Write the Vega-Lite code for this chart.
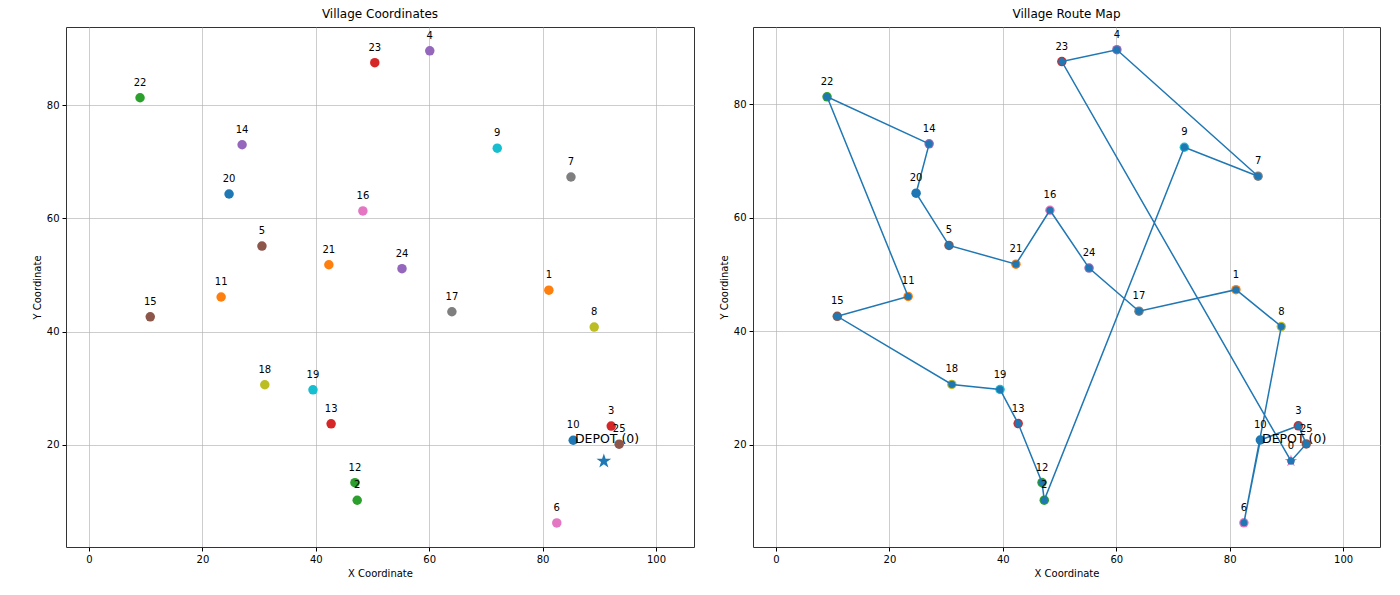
{
  "$schema": "https://vega.github.io/schema/vega-lite/v6.json",
  "background": "white",
  "padding": {"left": 31, "top": 7, "right": 10, "bottom": 5},
  "spacing": 23,
  "config": {
    "font": "DejaVu Sans",
    "view": {"stroke": "#333333", "strokeWidth": 1},
    "title": {"fontSize": 12, "fontWeight": "normal", "color": "#000000", "font": "DejaVu Sans", "offset": 6},
    "axis": {
      "domain": false,
      "grid": true,
      "gridColor": "#b0b0b0",
      "gridOpacity": 0.8,
      "gridWidth": 0.8,
      "tickColor": "#000000",
      "tickSize": 4,
      "labelFontSize": 10,
      "labelColor": "#000000",
      "labelFont": "DejaVu Sans",
      "titleFontSize": 10,
      "titleFontWeight": "normal",
      "titleColor": "#000000",
      "titleFont": "DejaVu Sans",
      "labelPadding": 3
    }
  },
  "datasets": {
    "villages": [
      {"id": 0, "x": 90.8, "y": 17.1},
      {"id": 1, "x": 81.1, "y": 47.3},
      {"id": 2, "x": 47.3, "y": 10.2},
      {"id": 3, "x": 92.1, "y": 23.3},
      {"id": 4, "x": 60.1, "y": 89.6},
      {"id": 5, "x": 30.5, "y": 55.1},
      {"id": 6, "x": 82.5, "y": 6.2},
      {"id": 7, "x": 85.0, "y": 67.3},
      {"id": 8, "x": 89.1, "y": 40.8},
      {"id": 9, "x": 72.0, "y": 72.4},
      {"id": 10, "x": 85.4, "y": 20.8},
      {"id": 11, "x": 23.3, "y": 46.1},
      {"id": 12, "x": 46.9, "y": 13.3},
      {"id": 13, "x": 42.7, "y": 23.7},
      {"id": 14, "x": 27.0, "y": 73.0},
      {"id": 15, "x": 10.8, "y": 42.6},
      {"id": 16, "x": 48.3, "y": 61.3},
      {"id": 17, "x": 64.0, "y": 43.5},
      {"id": 18, "x": 31.0, "y": 30.6},
      {"id": 19, "x": 39.5, "y": 29.7},
      {"id": 20, "x": 24.7, "y": 64.3},
      {"id": 21, "x": 42.3, "y": 51.8},
      {"id": 22, "x": 9.0, "y": 81.3},
      {"id": 23, "x": 50.4, "y": 87.5},
      {"id": 24, "x": 55.2, "y": 51.1},
      {"id": 25, "x": 93.5, "y": 20.1}
    ],
    "route": [
      {"step": 0, "id": 0}, {"step": 1, "id": 25}, {"step": 2, "id": 3}, {"step": 3, "id": 10},
      {"step": 4, "id": 6}, {"step": 5, "id": 8}, {"step": 6, "id": 1}, {"step": 7, "id": 17},
      {"step": 8, "id": 24}, {"step": 9, "id": 16}, {"step": 10, "id": 21}, {"step": 11, "id": 5},
      {"step": 12, "id": 20}, {"step": 13, "id": 14}, {"step": 14, "id": 22}, {"step": 15, "id": 11},
      {"step": 16, "id": 15}, {"step": 17, "id": 18}, {"step": 18, "id": 19}, {"step": 19, "id": 13},
      {"step": 20, "id": 12}, {"step": 21, "id": 2}, {"step": 22, "id": 9}, {"step": 23, "id": 7},
      {"step": 24, "id": 4}, {"step": 25, "id": 23}, {"step": 26, "id": 0}
    ],
    "depotLabel": [{"label": "DEPOT (0)", "x": 85.7, "y": 20.3}]
  },
  "hconcat": [
    {
      "title": "Village Coordinates",
      "width": 628,
      "height": 520,
      "encoding": {
        "x": {"field": "x", "type": "quantitative", "scale": {"domain": [-4.06, 106.7], "nice": false, "zero": false}, "axis": {"title": "X Coordinate", "values": [0, 20, 40, 60, 80, 100]}},
        "y": {"field": "y", "type": "quantitative", "scale": {"domain": [1.94, 93.8], "nice": false, "zero": false}, "axis": {"title": "Y Coordinate", "values": [20, 40, 60, 80]}}
      },
      "layer": [
        {
          "data": {"name": "villages"},
          "transform": [{"filter": "datum.id > 0"}],
          "mark": {"type": "circle", "size": 90, "opacity": 1},
          "encoding": {
            "color": {"field": "id", "type": "nominal", "legend": null,
              "scale": {"domain": [1,2,3,4,5,6,7,8,9,10,11,12,13,14,15,16,17,18,19,20,21,22,23,24,25],
                "range": ["#ff7f0e","#2ca02c","#d62728","#9467bd","#8c564b","#e377c2","#7f7f7f","#bcbd22","#17becf","#1f77b4","#ff7f0e","#2ca02c","#d62728","#9467bd","#8c564b","#e377c2","#7f7f7f","#bcbd22","#17becf","#1f77b4","#ff7f0e","#2ca02c","#d62728","#9467bd","#8c564b"]}}
          }
        },
        {
          "data": {"name": "villages"},
          "transform": [{"filter": "datum.id > 0"}],
          "mark": {"type": "text", "dy": -15, "fontSize": 10, "color": "#000000", "baseline": "middle"},
          "encoding": {"text": {"field": "id", "type": "nominal"}}
        },
        {
          "data": {"name": "villages"},
          "transform": [{"filter": "datum.id == 0"}],
          "mark": {"type": "point", "shape": "M0,-1L0.2245,-0.309L0.951,-0.309L0.3633,0.118L0.5878,0.809L0,0.382L-0.5878,0.809L-0.3633,0.118L-0.951,-0.309L-0.2245,-0.309Z", "filled": true, "size": 240, "color": "#1f77b4", "opacity": 1},
          "encoding": {}
        },
        {
          "data": {"name": "depotLabel"},
          "mark": {"type": "text", "align": "left", "baseline": "alphabetic", "fontSize": 12.5, "color": "#000000"},
          "encoding": {"text": {"field": "label", "type": "nominal"}}
        }
      ]
    },
    {
      "title": "Village Route Map",
      "width": 627,
      "height": 520,
      "encoding": {
        "x": {"field": "x", "type": "quantitative", "scale": {"domain": [-4.06, 106.5], "nice": false, "zero": false}, "axis": {"title": "X Coordinate", "values": [0, 20, 40, 60, 80, 100]}},
        "y": {"field": "y", "type": "quantitative", "scale": {"domain": [1.94, 93.6], "nice": false, "zero": false}, "axis": {"title": "Y Coordinate", "values": [20, 40, 60, 80]}}
      },
      "layer": [
        {
          "data": {"name": "villages"},
          "transform": [{"filter": "datum.id > 0"}],
          "mark": {"type": "circle", "size": 90, "opacity": 1},
          "encoding": {
            "color": {"field": "id", "type": "nominal", "legend": null,
              "scale": {"domain": [1,2,3,4,5,6,7,8,9,10,11,12,13,14,15,16,17,18,19,20,21,22,23,24,25],
                "range": ["#ff7f0e","#2ca02c","#d62728","#9467bd","#8c564b","#e377c2","#7f7f7f","#bcbd22","#17becf","#1f77b4","#ff7f0e","#2ca02c","#d62728","#9467bd","#8c564b","#e377c2","#7f7f7f","#bcbd22","#17becf","#1f77b4","#ff7f0e","#2ca02c","#d62728","#9467bd","#8c564b"]}}
          }
        },
        {
          "data": {"name": "villages"},
          "transform": [{"filter": "datum.id == 0"}],
          "mark": {"type": "point", "shape": "M0,-1L0.2245,-0.309L0.951,-0.309L0.3633,0.118L0.5878,0.809L0,0.382L-0.5878,0.809L-0.3633,0.118L-0.951,-0.309L-0.2245,-0.309Z", "filled": true, "size": 170, "color": "#e377c2", "opacity": 1},
          "encoding": {}
        },
        {
          "data": {"name": "route"},
          "transform": [{"lookup": "id", "from": {"data": {"name": "villages"}, "key": "id", "fields": ["x", "y"]}}],
          "mark": {"type": "line", "color": "#1f77b4", "strokeWidth": 1.5, "point": {"filled": true, "color": "#1f77b4", "size": 50, "opacity": 1}},
          "encoding": {"order": {"field": "step", "type": "quantitative"}}
        },
        {
          "data": {"name": "villages"},
          "mark": {"type": "text", "dy": -15, "fontSize": 10, "color": "#000000", "baseline": "middle"},
          "encoding": {"text": {"field": "id", "type": "nominal"}}
        },
        {
          "data": {"name": "depotLabel"},
          "mark": {"type": "text", "align": "left", "baseline": "alphabetic", "fontSize": 12.5, "color": "#000000"},
          "encoding": {"text": {"field": "label", "type": "nominal"}}
        }
      ]
    }
  ]
}
